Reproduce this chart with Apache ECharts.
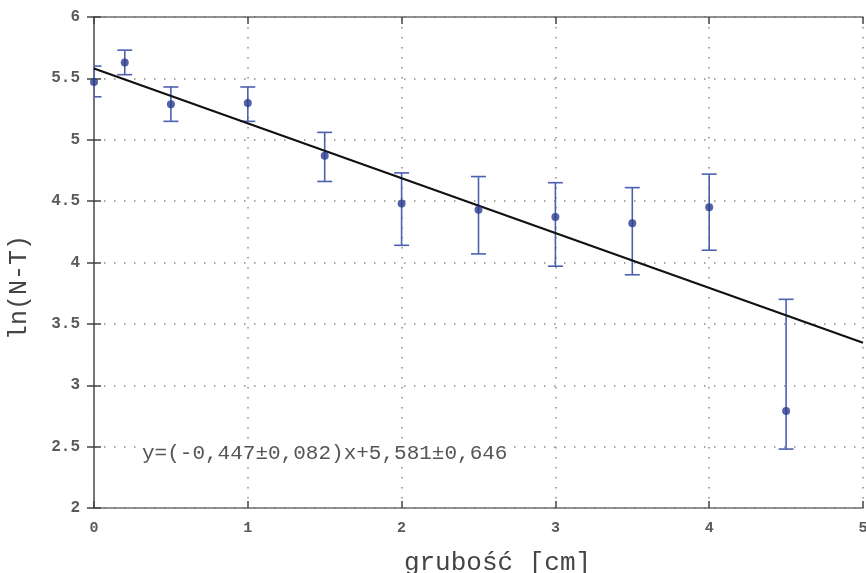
<!DOCTYPE html>
<html>
<head>
<meta charset="utf-8">
<script src="https://cdn.jsdelivr.net/npm/echarts@6/dist/echarts.min.js"></script>
<style>
    html, body { margin: 0; padding: 0; background: #fff; }
    #chart { width: 866px; height: 573px; }
</style>
</head>
<body>
<div id="chart"></div>
<script>
// pomiary: grubość [cm] i ln(N-T) z niepewnościami
var thickness = [0, 0.2, 0.5, 1, 1.5, 2, 2.5, 3, 3.5, 4, 4.5];
var lnValues  = [5.47, 5.63, 5.29, 5.30, 4.87, 4.48, 4.43, 4.37, 4.32, 4.45, 2.79];
var errLow    = [5.35, 5.53, 5.15, 5.15, 4.66, 4.14, 4.07, 3.97, 3.90, 4.10, 2.48];
var errHigh   = [5.60, 5.73, 5.43, 5.43, 5.06, 4.73, 4.70, 4.65, 4.61, 4.72, 3.70];

// prosta dopasowania y=(-0,447)x+5,581
var fitX = [0, 5];
var fitY = [5.581, 3.346];

var fitLabel = 'y=(-0,447\u00b10,082)x+5,581\u00b10,646';

var mono = 'Liberation Mono';
var axisColor = '#6e6e6e';
var labelColor = '#5a5a5a';

var errData = thickness.map(function (x, i) { return [x, errLow[i], errHigh[i]]; });
var pointData = thickness.map(function (x, i) { return [x, lnValues[i]]; });
var fitData = fitX.map(function (x, i) { return [x, fitY[i]]; });

var chart = echarts.init(document.getElementById('chart'));

var gridLine = {
    show: true,
    lineStyle: { color: '#8a8a8a', width: 1.5, type: [1.5, 8.5] }
};

var option = {
    backgroundColor: '#fff',
    animation: false,
    grid: { left: 94, right: 3, top: 17, bottom: 65, outerBoundsMode: 'none' },
    xAxis: [{
        type: 'value',
        min: 0, max: 5, interval: 1,
        name: 'grubość [cm]',
        nameLocation: 'middle',
        nameGap: 42,
        nameTextStyle: { fontFamily: mono, fontSize: 26, color: '#444', padding: [0, 0, 0, 38] },
        axisLine: { show: true, onZero: false, lineStyle: { color: axisColor, width: 1.5 } },
        axisTick: { show: true, inside: true, length: 7, lineStyle: { color: '#444', width: 1.5 } },
        axisLabel: { fontFamily: mono, fontSize: 15, color: labelColor, margin: 13, fontWeight: 'bold' },
        splitLine: gridLine
    }, {
        type: 'value',
        position: 'top',
        min: 0, max: 5, interval: 1,
        axisLine: { show: true, lineStyle: { color: axisColor, width: 1.5 } },
        axisTick: { show: true, inside: true, length: 7, lineStyle: { color: '#444', width: 1.5 } },
        axisLabel: { show: false },
        splitLine: { show: false }
    }],
    yAxis: [{
        type: 'value',
        min: 2, max: 6, interval: 0.5,
        name: 'ln(N-T)',
        nameLocation: 'middle',
        nameGap: 62,
        nameTextStyle: { fontFamily: mono, fontSize: 25, color: '#444', padding: [0, 50, 0, 0] },
        axisLine: { show: true, onZero: false, lineStyle: { color: axisColor, width: 1.5 } },
        axisTick: { show: true, inside: true, length: 7, lineStyle: { color: '#444', width: 1.5 } },
        axisLabel: { fontFamily: mono, fontSize: 16, color: labelColor, margin: 14, fontWeight: 'bold' },
        splitLine: gridLine
    }, {
        type: 'value',
        position: 'right',
        min: 2, max: 6, interval: 0.5,
        axisLine: { show: true, lineStyle: { color: axisColor, width: 1.5 } },
        axisTick: { show: true, inside: true, length: 7, lineStyle: { color: '#444', width: 1.5 } },
        axisLabel: { show: false },
        splitLine: { show: false }
    }],
    graphic: [{
        type: 'text',
        left: 138,
        top: 441,
        z: 5,
        style: {
            text: fitLabel,
            fontFamily: mono,
            fontSize: 21,
            fill: '#555',
            backgroundColor: '#fff',
            padding: [2, 4]
        }
    }],
    series: [
        {
            type: 'custom',
            clip: true,
            data: errData,
            z: 2,
            renderItem: function (params, api) {
                var x = api.value(0);
                var lo = api.coord([x, api.value(1)]);
                var hi = api.coord([x, api.value(2)]);
                var hw = 7.5;
                var st = { stroke: '#4d60b0', lineWidth: 1.6 };
                return {
                    type: 'group',
                    children: [
                        { type: 'line', shape: { x1: lo[0], y1: lo[1], x2: hi[0], y2: hi[1] }, style: st },
                        { type: 'line', shape: { x1: lo[0] - hw, y1: lo[1], x2: lo[0] + hw, y2: lo[1] }, style: st },
                        { type: 'line', shape: { x1: hi[0] - hw, y1: hi[1], x2: hi[0] + hw, y2: hi[1] }, style: st }
                    ]
                };
            }
        },
        {
            type: 'line',
            data: fitData,
            symbol: 'none',
            z: 3,
            lineStyle: { color: '#111', width: 2.2 }
        },
        {
            type: 'scatter',
            data: pointData,
            symbol: 'circle',
            symbolSize: 8,
            z: 4,
            itemStyle: { color: '#2a3c8e' }
        }
    ]
};

chart.setOption(option);
window.addEventListener('resize', chart.resize);
</script>
</body>
</html>
